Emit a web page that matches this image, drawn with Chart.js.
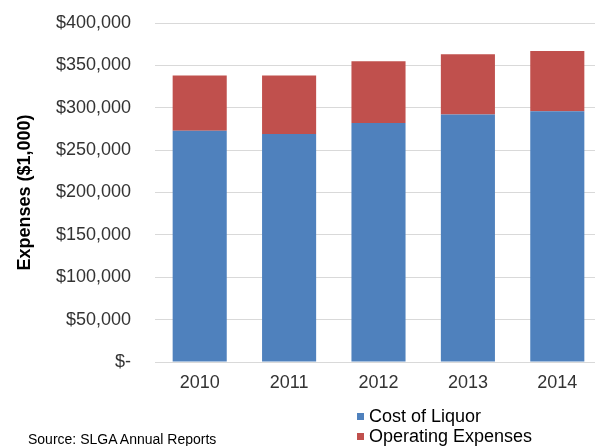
<!DOCTYPE html>
<html>
<head>
<meta charset="utf-8">
<script src="https://cdn.jsdelivr.net/npm/chart.js@4/dist/chart.umd.min.js"></script>
<style>
  html, body { margin: 0; padding: 0; background: #fff; overflow: hidden; width: 595px; height: 446px; }
  #wrap { position: relative; width: 595px; height: 446px; overflow: hidden; }
  canvas { position: absolute; left: 0; top: 0; }
  .leg { position: absolute; left: 357px; font-family: "Liberation Sans", Arial, sans-serif; font-size: 18px; line-height: 18px; color: #000; white-space: nowrap; }
  .leg span.box { position: absolute; left: 0; top: 6px; width: 7px; height: 7px; }
  .leg span.txt { position: absolute; left: 12px; top: 0; }
  #source { position: absolute; left: 28px; top: 432px; font-family: "Liberation Sans", Arial, sans-serif; font-size: 14px; line-height: 14px; color: #000; white-space: nowrap; }
</style>
</head>
<body>
<div id="wrap">
  <canvas id="c" width="602" height="446"></canvas>
  <div id="legend"></div>
  <div id="source">Source: SLGA Annual Reports</div>
</div>
<script>
const categories = ["2010", "2011", "2012", "2013", "2014"];
const costOfLiquor = [273000, 269000, 282000, 292000, 296000];
const operatingExpenses = [65000, 69000, 73000, 71000, 71000];
const seriesNames = ["Cost of Liquor", "Operating Expenses"];
const seriesColors = ["#4F81BD", "#C0504D"];
const yTickValues = [0, 50000, 100000, 150000, 200000, 250000, 300000, 350000, 400000];
const yTitle = "Expenses ($1,000)";

function fmt(v) {
  if (v === 0) return "$-";
  return "$" + v.toLocaleString("en-US");
}

const FONT = '"Liberation Sans", Arial, sans-serif';

const chart = new Chart(document.getElementById("c"), {
  type: "bar",
  data: {
    labels: categories,
    datasets: [
      { label: seriesNames[0], data: costOfLiquor, backgroundColor: seriesColors[0], borderWidth: 0 },
      { label: seriesNames[1], data: operatingExpenses, backgroundColor: seriesColors[1], borderWidth: 0 }
    ]
  },
  options: {
    responsive: false,
    animation: false,
    maintainAspectRatio: false,
    layout: { padding: { top: 23, right: 0, left: 0, bottom: 0 } },
    plugins: { legend: { display: false }, tooltip: { enabled: false } },
    datasets: { bar: { categoryPercentage: 1.0, barPercentage: 0.605 } },
    scales: {
      x: {
        stacked: true,
        grid: { display: false, drawTicks: false },
        border: { display: true, color: "#D9D9D9", width: 1 },
        ticks: { color: "#333", font: { family: FONT, size: 18 }, padding: 10, maxRotation: 0 },
        afterFit: (s) => { s.height = 84; s.paddingLeft = 0; s.paddingRight = 0; }
      },
      y: {
        stacked: true,
        min: 0,
        max: 400000,
        afterBuildTicks: (s) => { s.ticks = yTickValues.map(v => ({ value: v })); },
        grid: { color: "#D9D9D9", lineWidth: 1, drawTicks: false },
        border: { display: false },
        ticks: { color: "#333", font: { family: FONT, size: 18 }, padding: 24, callback: (v) => fmt(v) },
        title: { display: true, text: yTitle, color: "#000", font: { family: FONT, size: 18, weight: "bold" }, padding: { top: 14, bottom: 0 } },
        afterFit: (s) => { s.width = 155; s.paddingTop = 0; s.paddingBottom = 0; }
      }
    }
  }
});

const legend = document.getElementById("legend");
const legTops = [407, 427];
chart.data.datasets.forEach((ds, i) => {
  const d = document.createElement("div");
  d.className = "leg";
  d.style.top = legTops[i] + "px";
  d.innerHTML = '<span class="box" style="background:' + ds.backgroundColor + '"></span><span class="txt">' + ds.label + '</span>';
  legend.appendChild(d);
});
</script>
</body>
</html>
